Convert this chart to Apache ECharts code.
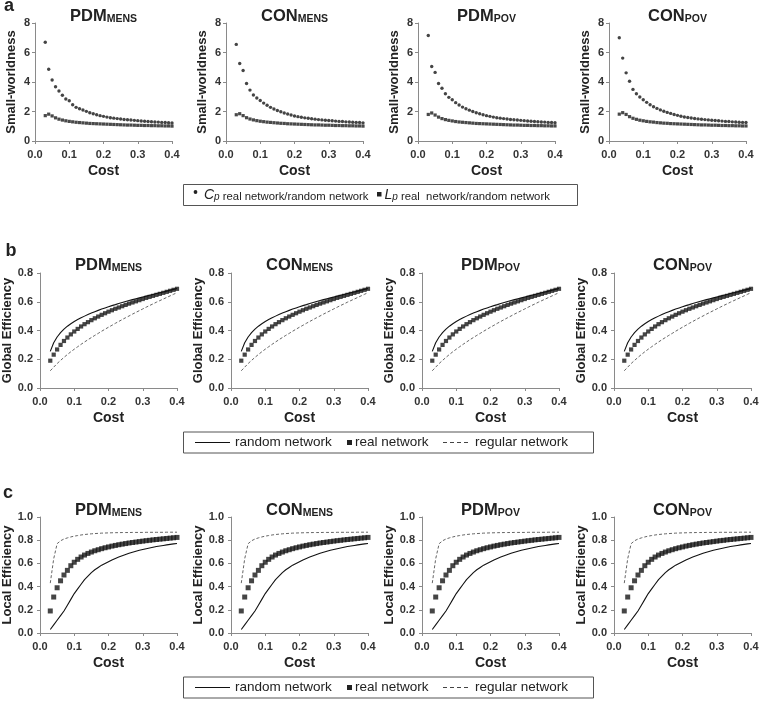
<!DOCTYPE html>
<html><head><meta charset="utf-8">
<script src="https://cdn.jsdelivr.net/npm/echarts@6/dist/echarts.min.js"></script>
<style>html,body{margin:0;padding:0;background:#fff}#c{width:760px;height:703px}</style>
</head><body><div id="c"></div>
<script>
// ---------------- DATA ----------------
const cost = [0.03,0.04,0.05,0.06,0.07,0.08,0.09,0.10,0.11,0.12,0.13,0.14,0.15,0.16,0.17,0.18,0.19,0.20,0.21,0.22,0.23,0.24,0.25,0.26,0.27,0.28,0.29,0.30,0.31,0.32,0.33,0.34,0.35,0.36,0.37,0.38,0.39,0.40];
const groupNames = [['PDM','MENS'],['CON','MENS'],['PDM','POV'],['CON','POV']];

// a: small-worldness (Cp ratio, Lp ratio)
const cpPDM_MENS = [6.69,4.86,4.14,3.68,3.39,3.10,2.85,2.73,2.46,2.28,2.19,2.10,2.01,1.92,1.85,1.78,1.72,1.67,1.62,1.58,1.55,1.52,1.49,1.46,1.44,1.42,1.40,1.38,1.36,1.34,1.32,1.31,1.29,1.28,1.26,1.25,1.24,1.22];
const lpPDM_MENS = [1.72,1.82,1.70,1.57,1.48,1.42,1.37,1.33,1.30,1.27,1.25,1.23,1.21,1.19,1.18,1.17,1.16,1.15,1.14,1.13,1.12,1.11,1.10,1.09,1.08,1.08,1.07,1.06,1.06,1.05,1.05,1.04,1.04,1.03,1.03,1.02,1.02,1.01];
const cpCON_MENS = [6.55,5.25,4.78,3.90,3.45,3.12,2.92,2.75,2.57,2.42,2.28,2.17,2.07,1.98,1.90,1.83,1.76,1.70,1.65,1.61,1.57,1.54,1.51,1.48,1.45,1.43,1.41,1.39,1.37,1.35,1.33,1.32,1.30,1.29,1.27,1.26,1.25,1.23];
const lpCON_MENS = [1.78,1.85,1.72,1.58,1.49,1.43,1.38,1.34,1.31,1.28,1.26,1.24,1.22,1.20,1.19,1.17,1.16,1.15,1.14,1.13,1.12,1.11,1.10,1.09,1.09,1.08,1.07,1.07,1.06,1.05,1.05,1.04,1.04,1.03,1.03,1.02,1.02,1.01];
const cpPDM_POV = [7.15,5.05,4.65,3.90,3.58,3.20,2.96,2.80,2.60,2.44,2.30,2.19,2.09,2.00,1.92,1.85,1.78,1.72,1.67,1.62,1.58,1.55,1.52,1.49,1.46,1.44,1.42,1.40,1.38,1.36,1.34,1.32,1.31,1.29,1.28,1.26,1.25,1.24];
const lpPDM_POV = [1.80,1.90,1.76,1.62,1.52,1.45,1.40,1.36,1.32,1.29,1.27,1.25,1.23,1.21,1.19,1.18,1.17,1.16,1.15,1.14,1.13,1.12,1.11,1.10,1.09,1.08,1.08,1.07,1.06,1.06,1.05,1.05,1.04,1.04,1.03,1.03,1.02,1.02];
const cpCON_POV = [7.00,5.62,4.62,4.05,3.50,3.20,2.98,2.80,2.62,2.46,2.32,2.21,2.11,2.02,1.94,1.87,1.80,1.74,1.68,1.63,1.59,1.56,1.53,1.50,1.47,1.45,1.43,1.41,1.39,1.37,1.35,1.33,1.32,1.30,1.29,1.27,1.26,1.25];
const lpCON_POV = [1.82,1.92,1.80,1.65,1.54,1.47,1.41,1.37,1.33,1.30,1.28,1.25,1.23,1.21,1.20,1.18,1.17,1.16,1.15,1.14,1.13,1.12,1.11,1.10,1.09,1.09,1.08,1.07,1.07,1.06,1.05,1.05,1.04,1.04,1.03,1.03,1.02,1.02];

// b: global efficiency
const geRandom = [0.255,0.315,0.355,0.385,0.410,0.430,0.447,0.462,0.476,0.489,0.500,0.511,0.521,0.531,0.540,0.549,0.557,0.565,0.573,0.580,0.588,0.595,0.602,0.609,0.615,0.621,0.627,0.633,0.639,0.645,0.651,0.657,0.663,0.668,0.674,0.680,0.686,0.692];
const geReal = [0.190,0.232,0.268,0.300,0.327,0.351,0.373,0.393,0.411,0.428,0.444,0.458,0.472,0.485,0.497,0.509,0.520,0.531,0.541,0.551,0.560,0.569,0.578,0.587,0.595,0.603,0.611,0.619,0.627,0.634,0.641,0.648,0.655,0.662,0.669,0.676,0.683,0.690];
const geRegular = [0.120,0.145,0.170,0.192,0.213,0.233,0.252,0.270,0.287,0.304,0.320,0.336,0.351,0.366,0.380,0.395,0.409,0.423,0.436,0.450,0.463,0.476,0.489,0.501,0.514,0.526,0.538,0.550,0.562,0.574,0.585,0.597,0.608,0.619,0.630,0.641,0.652,0.663];

// c: local efficiency
const leRandom = [0.03,0.07,0.11,0.15,0.19,0.24,0.29,0.34,0.38,0.42,0.46,0.49,0.52,0.545,0.565,0.585,0.60,0.615,0.63,0.643,0.655,0.666,0.677,0.687,0.696,0.705,0.713,0.72,0.727,0.733,0.739,0.745,0.75,0.755,0.76,0.764,0.768,0.772];
const leReal = [0.19,0.31,0.39,0.45,0.50,0.54,0.58,0.61,0.635,0.655,0.672,0.686,0.698,0.709,0.718,0.727,0.735,0.742,0.749,0.755,0.761,0.766,0.771,0.776,0.780,0.784,0.788,0.792,0.796,0.799,0.803,0.806,0.809,0.812,0.815,0.818,0.821,0.824];
const leRegular = [0.43,0.64,0.77,0.795,0.81,0.82,0.828,0.835,0.84,0.845,0.849,0.852,0.855,0.857,0.859,0.861,0.862,0.863,0.864,0.865,0.865,0.866,0.866,0.866,0.867,0.867,0.867,0.867,0.868,0.868,0.868,0.868,0.868,0.868,0.869,0.869,0.869,0.869];

const swCp = [cpPDM_MENS, cpCON_MENS, cpPDM_POV, cpCON_POV];
const swLp = [lpPDM_MENS, lpCON_MENS, lpPDM_POV, lpCON_POV];

// ---------------- LAYOUT ----------------
const FF = '"Liberation Sans", Arial, sans-serif';
const rows = [
  {key:'a', lefts:[35,226,418,609], top:23, height:118, width:137, yMin:0, yMax:8, yInt:2, yDec:0, yName:'Small-worldness', yGap:17, yMargin:5, titleY:16.5},
  {key:'b', lefts:[40,231,422,614], top:273, height:115, width:137, yMin:0, yMax:0.8, yInt:0.2, yDec:1, yName:'Global Efficiency', yGap:24, yMargin:7, titleY:265.5},
  {key:'c', lefts:[40,231,422,614], top:517, height:116, width:137, yMin:0, yMax:1.0, yInt:0.2, yDec:1, yName:'Local Efficiency', yGap:25, yMargin:7, titleY:510.5}
];

const grid = [], xAxis = [], yAxis = [], series = [], graphic = [];
const pair = arr => cost.map((c, k) => [c, arr[k]]);

rows.forEach((r, ri) => {
  r.lefts.forEach((L, pi) => {
    const gi = grid.length;
    grid.push({left:L, top:r.top, width:r.width, height:r.height, containLabel:false, outerBoundsMode:'none'});
    xAxis.push({
      gridIndex:gi, type:'value', min:0, max:0.4, interval:0.1,
      name:'Cost', nameLocation:'middle', nameGap:23,
      nameTextStyle:{fontFamily:FF, fontSize:14, fontWeight:'bold', color:'#222'},
      axisLine:{show:true, onZero:false, lineStyle:{color:'#8a8a8a', width:1}},
      axisTick:{show:true, length:3, lineStyle:{color:'#8a8a8a'}},
      axisLabel:{fontFamily:FF, fontSize:11, fontWeight:'bold', color:'#333', margin:8, formatter:v=>v.toFixed(1)},
      splitLine:{show:false}
    });
    yAxis.push({
      gridIndex:gi, type:'value', min:r.yMin, max:r.yMax, interval:r.yInt,
      name:r.yName, nameLocation:'middle', nameGap:r.yGap, nameRotate:90,
      nameTextStyle:{fontFamily:FF, fontSize:13, fontWeight:'bold', color:'#222'},
      axisLine:{show:true, onZero:false, lineStyle:{color:'#8a8a8a', width:1}},
      axisTick:{show:true, length:3, lineStyle:{color:'#8a8a8a'}},
      axisLabel:{fontFamily:FF, fontSize:11, fontWeight:'bold', color:'#333', margin:r.yMargin, formatter:v=>v.toFixed(r.yDec)},
      splitLine:{show:false}
    });
    if (ri === 0) {
      series.push({type:'scatter', name:'Cp', xAxisIndex:gi, yAxisIndex:gi, symbol:'circle', symbolSize:3.4, itemStyle:{color:'#151515'}, data:pair(swCp[pi])});
      series.push({type:'scatter', name:'Lp', xAxisIndex:gi, yAxisIndex:gi, symbol:'rect', symbolSize:3.2, itemStyle:{color:'#1c1c1c'}, data:pair(swLp[pi])});
    } else {
      const rnd = ri === 1 ? geRandom : leRandom;
      const real = ri === 1 ? geReal : leReal;
      const reg = ri === 1 ? geRegular : leRegular;
      series.push({type:'line', name:'random network', xAxisIndex:gi, yAxisIndex:gi, showSymbol:false, symbol:'none', lineStyle:{color:'#111', width:1.1}, data:pair(rnd)});
      series.push({type:'line', name:'regular network', xAxisIndex:gi, yAxisIndex:gi, showSymbol:false, symbol:'none', lineStyle:{color:'#666', width:1, type:[3,2]}, data:pair(reg)});
      series.push({type:'scatter', name:'real network', xAxisIndex:gi, yAxisIndex:gi, symbol:'rect', symbolSize: ri === 1 ? 4.2 : 5, itemStyle:{color:'#161616'}, data:pair(real)});
    }
    // panel title
    graphic.push({type:'text', x:L + r.width/2, y:r.titleY, style:{
      text:'{m|' + groupNames[pi][0] + '}{s|' + groupNames[pi][1] + '}',
      align:'center', verticalAlign:'middle',
      rich:{
        m:{fontFamily:FF, fontSize:16.5, fontWeight:'bold', fill:'#222', verticalAlign:'bottom'},
        s:{fontFamily:FF, fontSize:10.5, fontWeight:'bold', fill:'#222', verticalAlign:'bottom'}
      }
    }});
  });
});

// panel letters
[['a',9,6],['b',11,251],['c',8,493]].forEach(([t,x,y]) => {
  graphic.push({type:'text', x:x, y:y, style:{text:t, fontFamily:FF, fontSize:18, fontWeight:'bold', fill:'#222', align:'center', verticalAlign:'middle'}});
});

// legend a
graphic.push({type:'rect', shape:{x:183.5, y:184.5, width:394, height:21}, style:{fill:'none', stroke:'#555', lineWidth:1}});
graphic.push({type:'circle', shape:{cx:195.5, cy:192, r:1.9}, style:{fill:'#222'}});
const legRichA = {
  c:{fontFamily:FF, fontSize:14, fontStyle:'italic', fill:'#222', verticalAlign:'bottom'},
  p:{fontFamily:FF, fontSize:10, fontStyle:'italic', fill:'#222', verticalAlign:'bottom'},
  s:{fontFamily:FF, fontSize:11.3, fill:'#222', verticalAlign:'bottom'}
};
graphic.push({type:'text', x:204, y:195, style:{text:'{c|C}{p|p}{s| real network/random network}', align:'left', verticalAlign:'middle', rich:legRichA}});
graphic.push({type:'rect', shape:{x:377, y:192, width:4.5, height:4.5}, style:{fill:'#222'}});
graphic.push({type:'text', x:384.5, y:195, style:{text:'{c|L}{p|p}{s| real  network/random network}', align:'left', verticalAlign:'middle', rich:legRichA}});

// legends b & c
[442.5, 687.5].forEach(cy => {
  graphic.push({type:'rect', shape:{x:183.5, y:cy-10.5, width:410, height:21}, style:{fill:'none', stroke:'#555', lineWidth:1}});
  graphic.push({type:'line', shape:{x1:195, y1:cy, x2:230, y2:cy}, style:{stroke:'#111', lineWidth:1.2}});
  graphic.push({type:'text', x:235, y:cy, style:{text:'random network', fontFamily:FF, fontSize:13.5, fill:'#222', align:'left', verticalAlign:'middle'}});
  graphic.push({type:'rect', shape:{x:347, y:cy-2.5, width:5, height:5}, style:{fill:'#222'}});
  graphic.push({type:'text', x:355, y:cy, style:{text:'real network', fontFamily:FF, fontSize:13.5, fill:'#222', align:'left', verticalAlign:'middle'}});
  graphic.push({type:'line', shape:{x1:443, y1:cy, x2:470, y2:cy}, style:{stroke:'#444', lineWidth:1, lineDash:[4,3]}});
  graphic.push({type:'text', x:475, y:cy, style:{text:'regular network', fontFamily:FF, fontSize:13.5, fill:'#222', align:'left', verticalAlign:'middle'}});
});

const chart = echarts.init(document.getElementById('c'), null, {renderer:'canvas'});
chart.setOption({animation:false, backgroundColor:'#fff', grid, xAxis, yAxis, series, graphic, tooltip:{show:false}});
</script>
</body></html>
